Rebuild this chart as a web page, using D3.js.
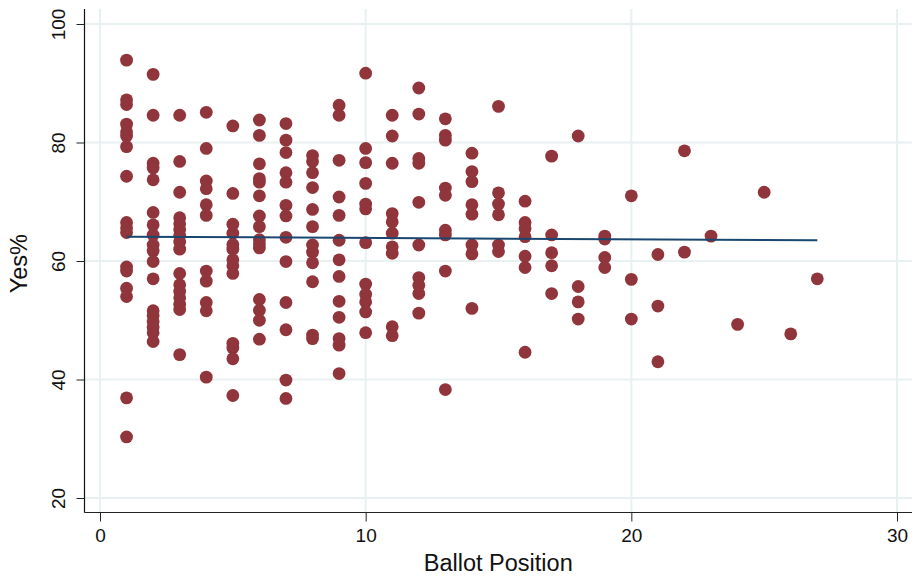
<!DOCTYPE html>
<html>
<head>
<meta charset="utf-8">
<script src="https://cdn.jsdelivr.net/npm/d3@7"></script>
<style>
  html, body { margin: 0; padding: 0; background: #fff; }
  svg { display: block; font-family: "Liberation Sans", Arial, Helvetica, sans-serif; }
</style>
</head>
<body>
<svg id="chart" width="915" height="576"></svg>
<script>
// Ballot positions 1..27 and the Yes% results observed at each position
const positions = d3.range(1, 28);
const yesByPosition = [
  [93.9, 87.2, 86.4, 83.1, 81.8, 81.1, 79.3, 74.3, 66.5, 65.6, 64.8, 59.0, 58.3, 55.4, 54.0, 36.9, 30.3],
  [91.5, 84.6, 76.5, 75.7, 73.7, 68.2, 66.1, 64.4, 62.7, 61.7, 59.9, 57.0, 51.6, 50.8, 49.8, 48.8, 47.9, 46.4],
  [84.6, 76.8, 71.6, 67.3, 66.3, 65.3, 64.3, 63.2, 62.0, 57.9, 56.0, 54.9, 53.8, 52.7, 51.8, 44.2],
  [85.1, 79.0, 73.5, 72.2, 69.5, 67.7, 58.3, 56.6, 53.0, 51.6, 40.4],
  [82.8, 71.4, 66.2, 64.7, 62.8, 62.0, 60.2, 59.2, 57.9, 46.1, 45.3, 43.5, 37.3],
  [83.8, 81.2, 76.4, 73.9, 73.3, 71.0, 67.6, 65.8, 63.6, 62.9, 62.2, 53.5, 51.7, 50.0, 46.8],
  [83.2, 80.4, 78.3, 74.9, 73.3, 69.4, 67.6, 64.0, 59.9, 53.0, 48.4, 39.9, 36.8],
  [77.8, 76.8, 74.9, 72.4, 68.7, 65.8, 62.7, 61.5, 59.7, 56.5, 47.5, 46.9],
  [86.3, 84.6, 77.0, 70.8, 67.7, 63.5, 60.2, 57.4, 53.2, 50.5, 46.9, 45.8, 41.0],
  [91.7, 79.0, 76.6, 73.1, 69.6, 68.8, 63.1, 56.1, 54.4, 53.1, 51.4, 47.9],
  [84.6, 81.1, 76.5, 68.0, 66.6, 64.7, 62.4, 61.3, 48.9, 47.4],
  [89.2, 84.8, 77.3, 76.5, 69.9, 62.7, 57.2, 55.9, 54.5, 51.2],
  [84.0, 81.2, 80.4, 72.3, 71.1, 65.2, 64.4, 58.3, 38.3],
  [78.2, 75.1, 73.4, 69.5, 67.9, 62.7, 61.2, 52.0],
  [86.1, 71.5, 69.6, 67.8, 62.7, 61.6],
  [70.1, 66.5, 65.5, 64.1, 60.8, 58.9, 44.6],
  [77.7, 64.4, 61.4, 59.2, 54.5],
  [81.1, 55.7, 53.1, 50.2],
  [64.2, 63.7, 60.6, 58.9],
  [71.0, 56.9, 50.2],
  [61.1, 52.4, 43.0],
  [78.6, 61.5],
  [64.2],
  [49.3],
  [71.6],
  [47.7],
  [57.0]
];

// Fitted linear trend, evaluated at the first and last ballot position
const fitX = [1, 27];
const fitY = [64.1, 63.5];

const xTicks = [0, 10, 20, 30];
const yTicks = [20, 40, 60, 80, 100];

const points = [];
positions.forEach((p, i) => yesByPosition[i].forEach(v => points.push({ x: p, y: v })));

const svg = d3.select("#chart");

// Plot frame (axis lines sit at the left and bottom edges)
const frame = { left: 84.5, right: 912, top: 9, bottom: 512.5 };

const x = d3.scaleLinear().domain([0, 30]).range([100, 897]);
const y = d3.scaleLinear().domain([20, 100]).range([498, 24]);

// Grid lines
const grid = svg.append("g").attr("stroke", "#e8f0f2").attr("stroke-width", 2);
grid.selectAll("line.h").data(yTicks).join("line")
  .attr("x1", frame.left).attr("x2", frame.right)
  .attr("y1", d => y(d)).attr("y2", d => y(d));
grid.selectAll("line.v").data(xTicks).join("line")
  .attr("y1", frame.top).attr("y2", frame.bottom)
  .attr("x1", d => x(d)).attr("x2", d => x(d));

// Axes
const xAxis = svg.append("g")
  .attr("transform", `translate(0,${frame.bottom})`)
  .call(d3.axisBottom(x).tickValues(xTicks).tickSize(9).tickPadding(7).tickFormat(d3.format("d")));
xAxis.select(".domain").attr("d", `M${frame.left},0H${frame.right}`).attr("stroke", "#222").attr("stroke-width", 1.2);
xAxis.selectAll(".tick line").attr("stroke", "#222");
xAxis.selectAll(".tick text").attr("font-size", 19).attr("fill", "#111")
  .attr("font-family", "Liberation Sans, Arial, sans-serif");

const yAxis = svg.append("g")
  .attr("transform", `translate(${frame.left},0)`)
  .call(d3.axisLeft(y).tickValues(yTicks).tickSize(8).tickFormat(d3.format("d")));
yAxis.select(".domain").attr("d", `M0,${frame.top}V${frame.bottom}`).attr("stroke", "#111").attr("stroke-width", 1.2);
yAxis.selectAll(".tick line").attr("stroke", "#222");
yAxis.selectAll(".tick text")
  .attr("font-size", 19).attr("fill", "#111")
  .attr("font-family", "Liberation Sans, Arial, sans-serif")
  .attr("text-anchor", "middle")
  .attr("dy", 0)
  .attr("x", null)
  .attr("transform", "translate(-20,0) rotate(-90)");

// Axis titles
svg.append("text")
  .attr("x", (frame.left + frame.right) / 2).attr("y", 571)
  .attr("text-anchor", "middle").attr("font-size", 23.5).attr("fill", "#111")
  .text("Ballot Position");
svg.append("text")
  .attr("transform", `translate(27,${(frame.top + frame.bottom) / 2 + 3}) rotate(-90)`)
  .attr("text-anchor", "middle").attr("font-size", 23.5).attr("fill", "#111")
  .text("Yes%");

// Scatter points
svg.append("g").attr("fill", "#90353b")
  .selectAll("circle").data(points).join("circle")
  .attr("cx", d => x(d.x)).attr("cy", d => y(d.y)).attr("r", 6.4);

// Linear fit
svg.append("line")
  .attr("x1", x(fitX[0])).attr("y1", y(fitY[0]))
  .attr("x2", x(fitX[1])).attr("y2", y(fitY[1]))
  .attr("stroke", "#1a476f").attr("stroke-width", 2);
</script>
</body>
</html>
